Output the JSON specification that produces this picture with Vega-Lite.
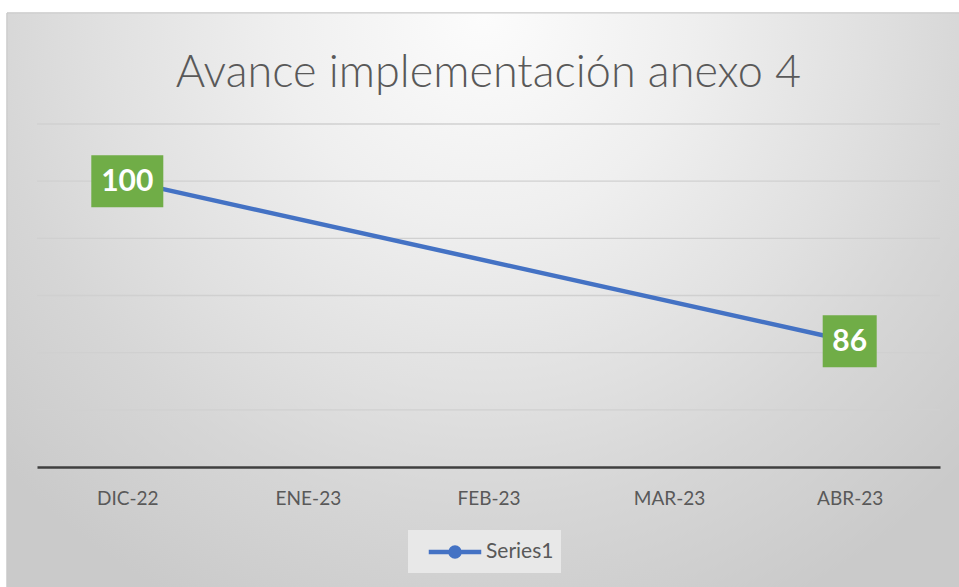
{
  "$schema": "https://vega.github.io/schema/vega-lite/v6.json",
  "width": 903,
  "height": 343,
  "autosize": {"type": "none"},
  "padding": {"left": 37, "top": 124, "right": 19, "bottom": 120},
  "background": "white",
  "config": {"view": {"stroke": null}, "font": "Lato"},
  "title": {
    "text": "Avance implementación anexo 4",
    "font": "Lato",
    "fontWeight": 300,
    "fontSize": 45,
    "color": "#595959",
    "anchor": "middle",
    "frame": "group",
    "offset": -84
  },
  "datasets": {
    "serie": [
      {"mes": "DIC-22", "idx": 0, "valor": 100, "serie": "Series1"},
      {"mes": "ABR-23", "idx": 4, "valor": 86, "serie": "Series1"}
    ],
    "grid": [{"g": 80}, {"g": 85}, {"g": 90}, {"g": 95}, {"g": 100}, {"g": 105}]
  },
  "layer": [
    {
      "data": {"name": "serie"},
      "mark": {
        "type": "rect",
        "clip": false,
        "stroke": "#cacaca",
        "strokeWidth": 1,
        "fill": {
          "gradient": "radial",
          "x1": 0.5, "y1": 0.2, "r1": 0,
          "x2": 0.5, "y2": 0.2, "r2": 0.72,
          "stops": [
            {"offset": 0, "color": "#fcfcfc"},
            {"offset": 0.3, "color": "#efefef"},
            {"offset": 0.56, "color": "#e0e0e0"},
            {"offset": 0.72, "color": "#d6d6d6"},
            {"offset": 0.96, "color": "#cacaca"}
          ]
        }
      },
      "encoding": {
        "x": {"datum": -0.666, "type": "quantitative", "scale": {"domain": [-0.5, 4.5], "nice": false, "zero": false},
              "axis": {"values": [0, 1, 2, 3, 4], "labelExpr": "['DIC-22','ENE-23','FEB-23','MAR-23','ABR-23'][datum.value]",
                       "title": null, "grid": false, "ticks": false, "domain": true, "domainColor": "#3f3f3f", "domainWidth": 2.6,
                       "labelFont": "Lato", "labelFontSize": 19, "labelColor": "#595959", "labelPadding": 22, "zindex": 1}},
        "x2": {"datum": 4.62},
        "y": {"datum": 114.71, "type": "quantitative", "scale": {"domain": [75, 105], "nice": false, "zero": false}, "axis": null},
        "y2": {"datum": 64.3}
      }
    },
    {
      "data": {"name": "grid"},
      "mark": {"type": "rule", "color": "#d0d0d0", "strokeWidth": 1.3},
      "encoding": {
        "y": {"field": "g", "type": "quantitative", "scale": {"domain": [75, 105], "nice": false, "zero": false}}
      }
    },
    {
      "data": {"name": "serie"},
      "mark": {"type": "line", "strokeWidth": 4.5, "strokeCap": "round"},
      "encoding": {
        "x": {"field": "idx", "type": "quantitative", "scale": {"domain": [-0.5, 4.5], "nice": false, "zero": false}},
        "y": {"field": "valor", "type": "quantitative", "scale": {"domain": [75, 105], "nice": false, "zero": false}},
        "color": {
          "field": "serie", "type": "nominal",
          "scale": {"range": ["#4472C4"]},
          "legend": {
            "orient": "none", "legendX": 371, "legendY": 406,
            "title": null,
            "fillColor": "#e8e8e8",
            "padding": 7,
            "symbolType": "M-2.1,0L2.1,0M0.36,0A0.36,0.36 0 1,1 -0.36,0A0.36,0.36 0 1,1 0.36,0",
            "symbolSize": 625,
            "symbolOffset": 25,
            "symbolStrokeWidth": 4.5,
            "symbolFillColor": "#4472C4",
            "symbolStrokeColor": "#4472C4",
            "labelFont": "Lato",
            "labelFontSize": 21,
            "labelColor": "#595959",
            "labelOffset": 16
          }
        }
      }
    },
    {
      "data": {"name": "serie"},
      "mark": {"type": "rect", "fill": "#70AD47", "height": 52,
               "width": {"expr": "length(format(datum.valor, 'd')) * 18 + 18"}},
      "encoding": {
        "x": {"field": "idx", "type": "quantitative", "scale": {"domain": [-0.5, 4.5], "nice": false, "zero": false}},
        "y": {"field": "valor", "type": "quantitative", "scale": {"domain": [75, 105], "nice": false, "zero": false}}
      }
    },
    {
      "data": {"name": "serie"},
      "mark": {"type": "text", "color": "white", "font": "Lato", "fontWeight": "bold", "fontSize": 30, "baseline": "middle", "align": "center", "dy": 1},
      "encoding": {
        "x": {"field": "idx", "type": "quantitative", "scale": {"domain": [-0.5, 4.5], "nice": false, "zero": false}},
        "y": {"field": "valor", "type": "quantitative", "scale": {"domain": [75, 105], "nice": false, "zero": false}},
        "text": {"field": "valor", "type": "quantitative", "format": "d"}
      }
    }
  ]
}
